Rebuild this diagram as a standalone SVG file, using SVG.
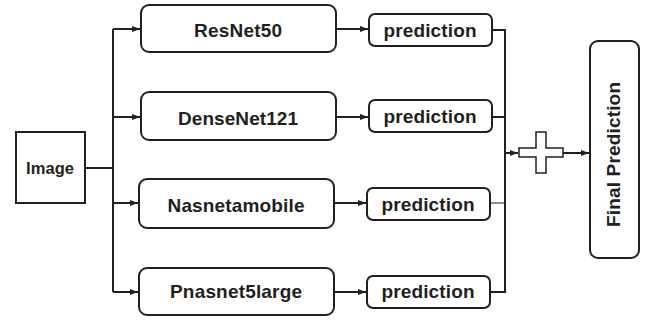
<svg xmlns="http://www.w3.org/2000/svg" width="646" height="320" viewBox="0 0 646 320">
<style>
.box{fill:#fff;stroke:#231f20;stroke-width:2}
.t{font-family:"Liberation Sans",Arial,sans-serif;font-weight:bold;font-size:19px;fill:#231f20;text-anchor:middle}
.s{font-size:16.5px}
.c{fill:none;stroke:#231f20;stroke-width:2}
</style>
<defs>
<marker id="ah" viewBox="0 0 8 6" refX="8" refY="3" markerWidth="8" markerHeight="6" markerUnits="userSpaceOnUse" orient="auto">
<path d="M0,0 L8,3 L0,6 Z" fill="#231f20"/>
</marker>
</defs>
<g id="connectors">
<path class="c" d="M85,168 H113"/>
<path class="c" d="M113,29 V292"/>
<path class="c" d="M113,29 H140" marker-end="url(#ah)"/>
<path class="c" d="M113,117 H140" marker-end="url(#ah)"/>
<path class="c" d="M113,203 H138" marker-end="url(#ah)"/>
<path class="c" d="M113,292 H138" marker-end="url(#ah)"/>
<path class="c" d="M336,29 H368" marker-end="url(#ah)"/>
<path class="c" d="M336,117 H368" marker-end="url(#ah)"/>
<path class="c" d="M334,203 H366" marker-end="url(#ah)"/>
<path class="c" d="M334,292 H366" marker-end="url(#ah)"/>
<path class="c" d="M492,30 H505 V292 H490"/>
<path class="c" d="M492,117 H505"/>
<path fill="none" stroke="#231f20" stroke-width="1" d="M490,203 H505"/>
<path class="c" d="M505,153 H518" marker-end="url(#ah)"/>
<path class="c" d="M563,153 H589" marker-end="url(#ah)"/>
</g>
<g id="image"><rect class="box" x="16" y="132" width="69" height="71"/><text class="t s" x="50" y="174" textLength="48">Image</text></g>
<g id="resnet50"><rect class="box" x="141" y="5" width="195" height="47" rx="8"/><text class="t" x="238" y="37" textLength="88">ResNet50</text></g>
<g id="densenet121"><rect class="box" x="141" y="92" width="195" height="48" rx="8"/><text class="t" x="238" y="125" textLength="120">DenseNet121</text></g>
<g id="nasnetamobile"><rect class="box" x="139" y="179" width="195" height="49" rx="8"/><text class="t" x="236" y="212" textLength="137">Nasnetamobile</text></g>
<g id="pnasnet5large"><rect class="box" x="139" y="268" width="195" height="47" rx="8"/><text class="t" x="236" y="298" textLength="132">Pnasnet5large</text></g>
<g id="pred1"><rect class="box" x="369" y="14" width="123" height="32" rx="6"/><text class="t" x="430" y="37" textLength="93">prediction</text></g>
<g id="pred2"><rect class="box" x="369" y="100" width="123" height="32" rx="6"/><text class="t" x="430" y="123" textLength="93">prediction</text></g>
<g id="pred3"><rect class="box" x="367" y="188" width="123" height="32" rx="6"/><text class="t" x="428" y="211" textLength="93">prediction</text></g>
<g id="pred4"><rect class="box" x="367" y="276" width="123" height="32" rx="6"/><text class="t" x="428" y="298" textLength="93">prediction</text></g>
<g id="plus"><path fill="#fff" stroke="#231f20" stroke-width="1.5" d="M519,148 H536 V132 H546 V148 H563 V157 H546 V173 H536 V157 H519 Z"/></g>
<g id="final"><rect class="box" x="590" y="41" width="49" height="217" rx="8"/><text class="t" transform="translate(620,154.5) rotate(-90)" x="0" y="0" textLength="145">Final Prediction</text></g>
</svg>
